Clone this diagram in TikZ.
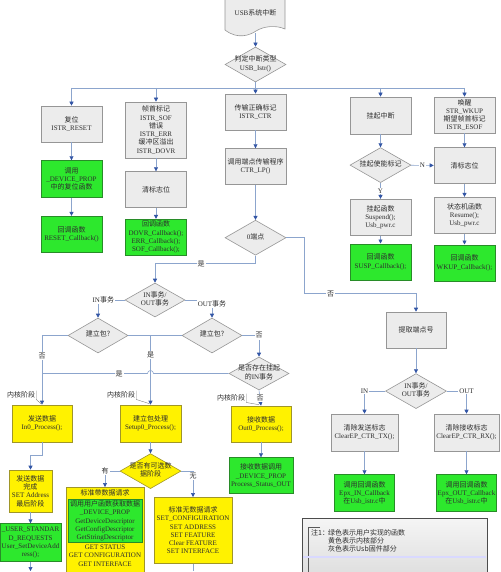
\documentclass[tikz,border=0pt]{standalone}
\usepackage{fontspec}
\setmainfont{Liberation Serif}
\newfontfamily\zhfont{Noto Sans CJK SC}
\newcommand{\zh}[1]{{\zhfont #1}}
\newcommand{\fs}{\fontsize{7}{8.3}\selectfont}
% text of a diamond, kept out of the shape size
\newcommand{\dtxt}[1]{\makebox[0pt]{\smash{\raisebox{-1.5pt}{\begin{tabular}{@{}c@{}}#1\end{tabular}}}}}
\usepackage{tikz}
\usetikzlibrary{%
    arrows.meta,%
    positioning,%
    shapes.geometric
    }
\definecolor{linkblue}{RGB}{140,165,205}
\definecolor{tipblue}{RGB}{50,85,165}
\definecolor{boxgray}{RGB}{236,236,236}
\definecolor{edgegray}{RGB}{150,150,150}
\definecolor{usrgreen}{RGB}{45,232,45}
\definecolor{greenedge}{RGB}{40,140,40}
\definecolor{coreyellow}{RGB}{255,242,0}
\definecolor{yellowedge}{RGB}{160,150,40}
\definecolor{txtgray}{RGB}{45,45,45}
\tikzset{
  fwbox/.style={
    rectangle,
    minimum width=61pt,
    minimum height=36pt,
    inner sep=1pt,
    align=center,
    line width=0.6pt,
    draw=edgegray,
    fill=boxgray,
    font=\fs,
    text=txtgray,
  },
  userbox/.style={
    fwbox,
    draw=greenedge,
    fill=usrgreen,
  },
  corebox/.style={
    fwbox,
    draw=yellowedge,
    fill=coreyellow,
  },
  decide/.style={
    diamond,
    minimum width=61pt,
    minimum height=35pt,
    inner sep=0pt,
    line width=0.6pt,
    draw=edgegray,
    fill=boxgray,
    font=\fs,
    text=txtgray,
  },
  lbl/.style={
    fill=white,
    inner sep=1pt,
    font=\fs,
    text=txtgray,
  },
  kern/.style={
    inner sep=1pt,
    font=\fs,
    text=txtgray,
  },
  flowline/.style={
    draw=linkblue,
    line width=0.6pt,
  },
  flowarrow/.style={
    flowline,
    -{Triangle[width=4pt,length=4pt,color=tipblue]},
  },
}

\begin{document}
\begin{tikzpicture}[x=1pt,y=1pt,node distance=18pt]
\useasboundingbox (0,0) rectangle (500,-572);

% interrupt entry
\draw[draw=edgegray,fill=boxgray,line width=0.6pt]
  (225,5) -- (225,-30)
  .. controls (238,-40) and (250,-35) .. (256,-31)
  .. controls (264,-26) and (276,-25) .. (285,-29) -- (285,5);
\node[kern,minimum height=40pt] 
  (usbint) at (255.5,-13)
  {USB\zh{系统中断}};
\node[decide] 
  (istr) at (255.5,-64.5)
  {\dtxt{\zh{判定中断类型}\\USB\_Istr()}};
\coordinate (bus) at (0,-88);
\coordinate (lowedge) at (0,-571);

% first row
\node[fwbox] 
  (reset) at (71.5,-124)
  {\zh{复位}\\ISTR\_RESET};
\node[fwbox,minimum height=56pt] 
  (sof) at (156,-130)
  {\zh{帧首标记}\\ISTR\_SOF\\\zh{错误}\\ISTR\_ERR\\\zh{缓冲区溢出}\\ISTR\_DOVR};
\node[fwbox] 
  (ctr) at (255.5,-112)
  {\zh{传输正确标记}\\ISTR\_CTR};
\node[fwbox,minimum height=37pt] 
  (susp) at (380.5,-115.5)
  {\zh{挂起中断}};
\node[fwbox] 
  (wkup) at (464.5,-115)
  {\zh{唤醒}\\STR\_WKUP\\\zh{期望帧首标记}\\ISTR\_ESOF};

% columns below
\node[userbox,minimum height=37pt,below=of reset] 
  (resetcall) 
  {\zh{调用}\\\_DEVICE\_PROP\\\zh{中的复位函数}};
\node[userbox,below=of resetcall] 
  (resetcb) 
  {\zh{回调函数}\\RESET\_Callback()};
\node[fwbox,below=13pt of sof] 
  (sofclr) 
  {\zh{清标志位}};
\node[userbox,below=11pt of sofclr] 
  (sofcb) 
  {\zh{回调函数}\\DOVR\_Callback();\\ERR\_Callback();\\SOF\_Callback();};
\node[fwbox,below=of ctr] 
  (ctrlp) 
  {\zh{调用端点传输程序}\\CTR\_LP()};
\node[decide,below=35pt of ctrlp] 
  (ep0) 
  {\dtxt{0\zh{端点}}};
\node[decide,below=13pt of susp] 
  (suspen) 
  {\dtxt{\zh{挂起使能标记}}};
\node[fwbox,below=16pt of suspen] 
  (suspfn) 
  {\zh{挂起函数}\\Suspend();\\Usb\_pwr.c};
\node[userbox,below=8pt of suspfn] 
  (suspcb) 
  {\zh{回调函数}\\SUSP\_Callback();};
\node[fwbox,below=14pt of wkup] 
  (wkupclr) 
  {\zh{清标志位}};
\node[fwbox,below=13pt of wkupclr] 
  (resume) 
  {\zh{状态机函数}\\Resume();\\Usb\_pwr.c};
\node[userbox,below=11pt of resume] 
  (wkupcb) 
  {\zh{回调函数}\\WKUP\_Callback();};

% other endpoints
\node[fwbox,minimum width=60pt] 
  (epnum) at (416,-330)
  {\zh{提取端点号}};
\node[decide,below=25pt of epnum] 
  (dirR) 
  {\dtxt{IN\zh{事务}/\\OUT\zh{事务}}};
\node[fwbox,minimum width=67pt,minimum height=37pt] 
  (cleartx) at (364.5,-432.5)
  {\zh{清除发送标志}\\ClearEP\_CTR\_TX();};
\node[fwbox,minimum width=65pt,minimum height=37pt] 
  (clearrx) at (466.5,-432.5)
  {\zh{清除接收标志}\\ClearEP\_CTR\_RX();};
\node[userbox,minimum width=60pt,minimum height=37pt,below=23pt of cleartx] 
  (incb) 
  {\zh{调用回调函数}\\Epx\_IN\_Callback\\\zh{在}Usb\_istr.c\zh{中}};
\node[userbox,minimum width=60pt,minimum height=37pt,below=23pt of clearrx] 
  (outcb) 
  {\zh{调用回调函数}\\Epx\_OUT\_Callback\\\zh{在}Usb\_istr.c\zh{中}};

% endpoint 0
\node[decide,minimum width=60pt,minimum height=34pt] 
  (dirL) at (155,-300)
  {\dtxt{IN\zh{事务}/\\OUT\zh{事务}}};
\node[decide,minimum width=60pt] 
  (setupL) at (98,-335.5)
  {\dtxt{\zh{建立包?}}};
\node[decide,minimum width=60pt] 
  (setupR) at (212,-335.5)
  {\dtxt{\zh{建立包?}}};
\node[decide,minimum width=60pt,minimum height=33pt] 
  (pending) at (259,-373.5)
  {\dtxt{\zh{是否存在挂起}\\\zh{的}IN\zh{事务}}};
\node[corebox,minimum width=60pt,minimum height=37pt] 
  (in0) at (42,-423.5)
  {\zh{发送数据}\\In0\_Process();};
\node[corebox,minimum height=37pt] 
  (setup0) at (150.5,-423.5)
  {\zh{建立包处理}\\Setup0\_Process();};
\node[corebox,minimum width=60pt] 
  (out0) at (261,-424)
  {\zh{接收数据}\\Out0\_Process();};
\node[kern] (kern1) at (21,-395) {\zh{内核阶段}};
\node[kern] (kern2) at (121,-395) {\zh{内核阶段}};
\node[kern] (kern3) at (231,-398) {\zh{内核阶段}};

\node[corebox,minimum width=43pt,minimum height=42pt] 
  (indone) at (30.5,-491)
  {\zh{发送数据}\\\zh{完成}\\SET Address\\\zh{最后阶段}};
\node[userbox,minimum height=38pt,below=11pt of indone] 
  (userreq) 
  {\_USER\_STANDAR\\D\_REQUESTS\\User\_SetDeviceAdd\\ress();};
\node[decide,draw=yellowedge,fill=coreyellow,below=11pt of setup0] 
  (optdata) 
  {\dtxt{\zh{是否有可选数}\\\zh{据阶段}}};
\node[corebox,anchor=north,minimum width=78pt,minimum height=100pt] 
  (withdata) at (105,-487)
  {};
\node[kern,below=1pt of withdata.north] 
  (withtitle) 
  {\zh{标准带数据请求}};
\node[userbox,anchor=north,minimum width=74pt,minimum height=43pt] 
  (devprop) at (105,-499)
  {\zh{调用用户函数获取数据}\\\_DEVICE\_PROP\\GetDeviceDescriptor\\GetConfigDescriptor\\GetStringDescriptor};
\node[kern,align=center,below=1pt of devprop] 
  (getreq) 
  {GET STATUS\\GET CONFIGURATION\\GET INTERFACE};
\node[corebox,anchor=north,minimum width=78pt,minimum height=66pt] 
  (nodata) at (193,-497)
  {\zh{标准无数据请求}\\SET\_CONFIGURATION\\SET ADDRESS\\SET FEATURE\\Clear FEATURE\\SET INTERFACE};
\node[userbox,minimum width=64pt,below=15pt of out0] 
  (statusout) 
  {\zh{接收数据调用}\\\_DEVICE\_PROP\\Process\_Status\_OUT};

% legend
\node[rectangle,anchor=north west,minimum width=185pt,minimum height=70pt,
      draw=gray!60!black,line width=1pt,top color=gray!8,bottom color=gray!30] 
  (note) at (302,-518)
  {};
\draw[gray!70!black,line width=0.4pt] (320,-527) -| (308,-580);
\draw[blue!15,line width=1.5pt] (303,-557) -- (486,-557);
\node[kern,anchor=north west] 
  (notehead) at (310,-528)
  {\zh{注1：}};
\node[kern,anchor=north west,align=left] 
  (notebody) at (327,-528)
  {\zh{绿色表示用户实现的函数}\\\zh{黄色表示内核部分}\\\zh{灰色表示Usb固件部分}};

\begin{scope}[flowarrow]
\draw
  (usbint) -- (istr);
\draw
  (istr) -- (ctr);
\draw[-]
  (reset.north |- bus) -- (wkup.north |- bus);
\draw
  (reset.north |- bus) -- (reset.north);
\draw
  (sof.north |- bus) -- (sof.north);
\draw
  (susp.north |- bus) -- (susp.north);
\draw
  (wkup.north |- bus) -- (wkup.north);
\draw
  (reset) -- (resetcall);
\draw
  (resetcall) -- (resetcb);
\draw
  (sof) -- (sofclr);
\draw
  (sofclr) -- (sofcb);
\draw
  (ctr) -- (ctrlp);
\draw
  (ctrlp) -- (ep0);
\draw
  (susp) -- (suspen);
\draw
  (suspen) -- node[lbl] {Y} (suspfn);
\draw
  (suspen) -- node[lbl] {N} (wkupclr);
\draw
  (suspfn) -- (suspcb);
\draw
  (wkup) -- (wkupclr);
\draw
  (wkupclr) -- (resume);
\draw
  (resume) -- (wkupcb);
\draw
  (ep0.south) -- ++(0,-8) -| node[lbl,pos=0.27] {\zh{是}} (dirL.north);
\draw
  (ep0.east) -- ++(17.5,0) -- ++(0,-56) -| node[lbl,pos=0.12] {\zh{否}} (epnum.north);
\draw
  (epnum) -- (dirR);
\draw
  (dirR.west) -| node[lbl] {IN} (cleartx.north);
\draw
  (dirR.east) -| node[lbl] {OUT} (clearrx.north);
\draw
  (cleartx) -- (incb);
\draw
  (clearrx) -- (outcb);
\draw
  (dirL.west) -| node[lbl,pos=0.4] {IN\zh{事务}} (setupL.north);
\draw
  (dirL.east) -| node[lbl,pos=0.6] {OUT\zh{事务}} (setupR.north);
\draw
  (setupL.west) -| node[lbl,pos=0.65] {\zh{否}} (in0.north);
\draw[-]
  (setupL.east) -- (setupR.west);
\draw
  (setupL.east -| setup0.north) -- node[lbl,pos=0.28] {\zh{是}} (setup0.north);
\draw
  (setupR.east) -| node[lbl] {\zh{否}} (pending.north);
\draw[-]
  (pending.west) -- ([xshift=3pt]setup0.north |- pending.west)
  arc[start angle=0,end angle=180,radius=3pt]
  -- node[lbl,pos=0.27] {\zh{是}} (in0.north |- pending.west);
\draw
  (pending.south) -- node[lbl] {\zh{否}} (out0.north);
\draw
  (in0.south) -- ++(0,-13) -| (indone.north);
\draw
  (indone) -- (userreq);
\draw
  (userreq.south) -- (userreq.south |- lowedge);
\draw
  (setup0) -- (optdata);
\draw
  (optdata.west) -| node[lbl] {\zh{有}} (withdata.north);
\draw
  (optdata.east) -| node[lbl,pos=0.6] {\zh{无}} (nodata.north);
\draw
  (out0) -- (statusout);
\draw[-]
  (nodata.south) -- (nodata.south |- lowedge);
\end{scope}

% core stage callouts
\begin{scope}[draw=gray,line width=0.4pt]
\draw (kern1.north east) -- (kern1.south east) -- ([shift={(-1pt,1pt)}]in0.north);
\draw (kern2.north east) -- (kern2.south east) -- ([shift={(-1pt,1pt)}]setup0.north);
\draw (kern3.north east) -- (kern3.south east) -- ([shift={(-2pt,1pt)}]out0.north);
\end{scope}
\end{tikzpicture}
\end{document}
